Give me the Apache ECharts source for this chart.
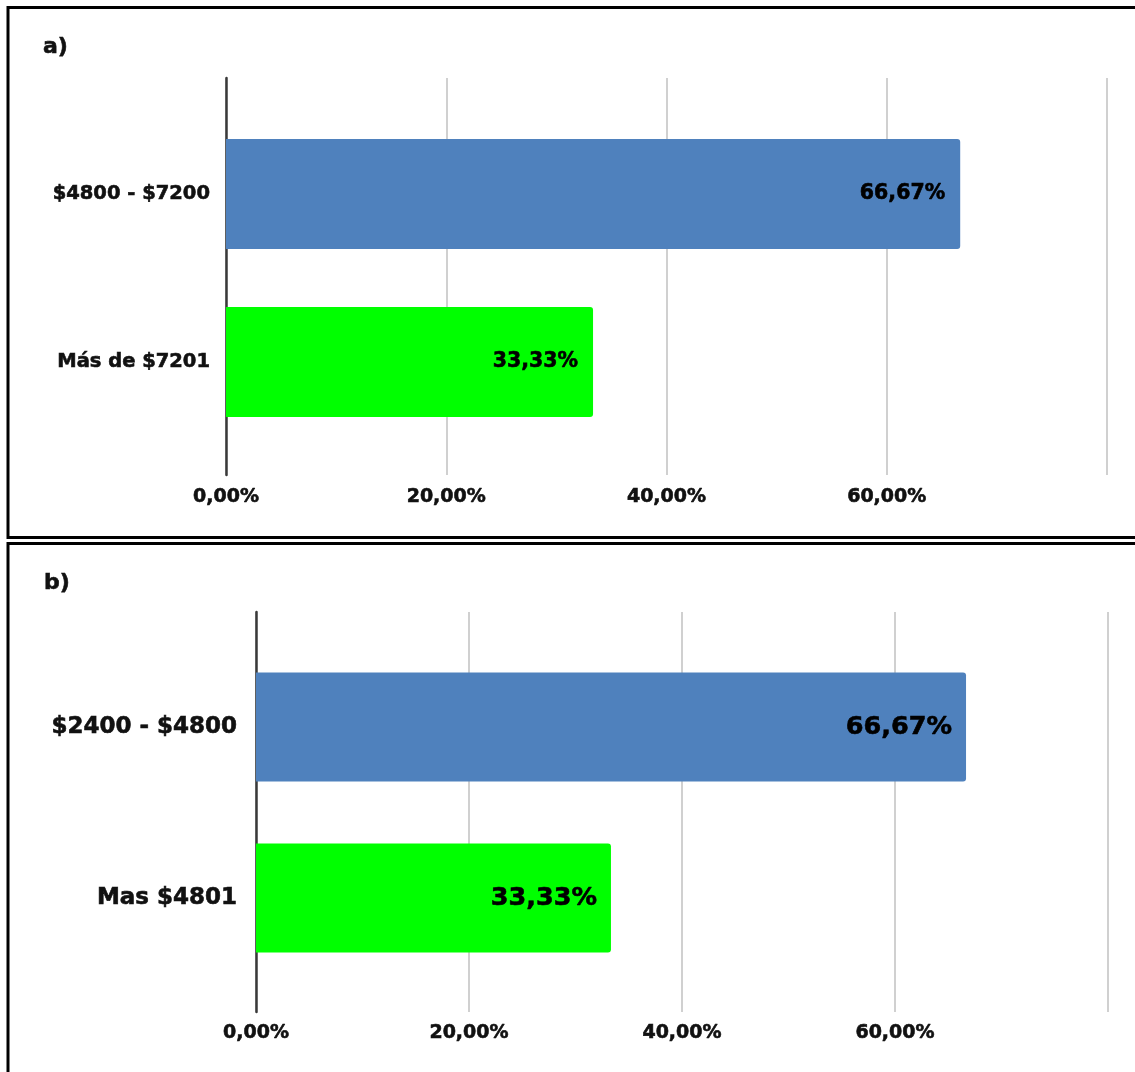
<!DOCTYPE html>
<html>
<head>
<meta charset="utf-8">
<script src="https://cdn.jsdelivr.net/npm/echarts@6/dist/echarts.min.js"></script>
<style>
  html, body { margin: 0; padding: 0; background: #fff; }
  #chart { width: 1135px; height: 1072px; }
</style>
</head>
<body>
<div id="chart"></div>
<script>
// Income ranges and their shares (percent)
const panelALabels = ['$4800 - $7200', 'Más de $7201'];
const panelAValues = [66.67, 33.33];
const panelBLabels = ['$2400 - $4800', 'Mas $4801'];
const panelBValues = [66.67, 33.33];
const barColors = ['#4F81BD', '#00FF00'];
const panelTitles = ['a)', 'b)'];
const axisMin = 0, axisMax = 80, axisStep = 20;

const FONT = 'DejaVu Sans';
const pct = v => Number(v).toFixed(2).replace('.', ',') + '%';
// slightly heavier bold text
const heavy = (size, color) => ({
  fontFamily: FONT, fontWeight: 'bold', fontSize: size, color: color,
  textBorderColor: color, textBorderWidth: 0.6
});

const chart = echarts.init(document.getElementById('chart'), null, { renderer: 'canvas' });

// Geometry for each panel: the background grid carries gridlines/ticks,
// the front grid carries the bars and category labels.
const panels = [
  { labels: panelALabels, values: panelAValues, left: 226, width: 881,
    backTop: 78, backH: 397, frontTop: 110, frontH: 336, barW: 110,
    catSize: 19.5, catMargin: 16, valSize: 20.5, valDist: 15, tickSize: 19, tickMargin: 13 },
  { labels: panelBLabels, values: panelBValues, left: 256, width: 852,
    backTop: 612, backH: 400, frontTop: 641.5, frontH: 342, barW: 109,
    catSize: 23, catMargin: 19, valSize: 25.5, valDist: 14, tickSize: 19, tickMargin: 12 }
];

const grid = [], xAxis = [], yAxis = [], series = [];
panels.forEach((p, i) => {
  const back = grid.length;
  grid.push({ left: p.left, top: p.backTop, width: p.width, height: p.backH });
  const front = grid.length;
  grid.push({ left: p.left, top: p.frontTop, width: p.width, height: p.frontH });

  xAxis.push({
    type: 'value', gridIndex: back, min: axisMin, max: axisMax, interval: axisStep,
    axisLine: { show: false }, axisTick: { show: false },
    splitLine: { show: true, lineStyle: { color: '#d0d0d0', width: 2 } },
    axisLabel: Object.assign({ showMaxLabel: false, margin: p.tickMargin, formatter: pct },
      heavy(p.tickSize, '#111'))
  });
  yAxis.push({
    type: 'value', gridIndex: back, min: 0, max: 1,
    axisLine: { show: true, lineStyle: { color: '#3a3a3a', width: 2.5 } },
    axisTick: { show: false }, axisLabel: { show: false }, splitLine: { show: false }
  });

  xAxis.push({ type: 'value', gridIndex: front, min: axisMin, max: axisMax, show: false });
  yAxis.push({
    type: 'category', gridIndex: front, inverse: true, data: p.labels,
    axisLine: { show: false }, axisTick: { show: false },
    axisLabel: Object.assign({ margin: p.catMargin }, heavy(p.catSize, '#111'))
  });

  series.push({
    type: 'bar', xAxisIndex: xAxis.length - 1, yAxisIndex: yAxis.length - 1,
    barWidth: p.barW,
    data: p.values.map((v, k) => ({ value: v, itemStyle: { color: barColors[k] } })),
    itemStyle: { borderRadius: [0, 3, 3, 0] },
    label: Object.assign({
      show: true, position: 'insideRight', distance: p.valDist,
      formatter: d => pct(d.value)
    }, heavy(p.valSize, '#000')),
    silent: true
  });
});

chart.setOption({
  animation: false,
  backgroundColor: '#fff',
  title: [
    { text: panelTitles[0], left: 43, top: 36, padding: 0, textStyle: heavy(22, '#111') },
    { text: panelTitles[1], left: 44, top: 572, padding: 0, textStyle: heavy(22, '#111') }
  ],
  graphic: [
    { type: 'rect', shape: { x: 8, y: 7.5, width: 1140, height: 530 },
      style: { fill: 'none', stroke: '#000', lineWidth: 3 }, z: 10 },
    { type: 'rect', shape: { x: 8, y: 543.5, width: 1140, height: 540 },
      style: { fill: 'none', stroke: '#000', lineWidth: 3 }, z: 10 }
  ],
  grid, xAxis, yAxis, series
});
</script>
</body>
</html>
